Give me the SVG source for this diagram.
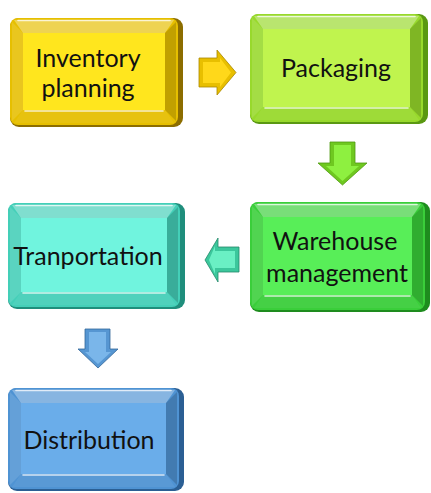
<svg xmlns="http://www.w3.org/2000/svg" width="431" height="493" viewBox="0 0 431 493">
  <defs>
    <style>
      text { font-family: Lato, "Open Sans", "Liberation Sans", sans-serif; font-size: 25px; fill: #111; text-anchor: middle; }
      .bt { fill: #fff; opacity: .32; }
      .bl { fill: #fff; opacity: .12; }
      .br { fill: #000; opacity: .16; }
      .bb { fill: #fff; opacity: .06; }
      .hl { stroke: #fff; stroke-width: 1.6; opacity: .75; fill: none; stroke-linecap: round; }
      .yellow .side { fill: #8c6d00; } .yellow .body { fill: #e6bf00; } .yellow .face { fill: #ffe61e; }
      .lime .side { fill: #5a9812; } .lime .body { fill: #98d92c; } .lime .face { fill: #c0f44e; }
      .green .side { fill: #1e8c1e; } .green .body { fill: #3ace3a; } .green .face { fill: #58ee58; }
      .teal .side { fill: #1f8e7c; } .teal .body { fill: #44cfb8; } .teal .face { fill: #70f4de; }
      .blue .side { fill: #2b5f94; } .blue .body { fill: #4f93d3; } .blue .face { fill: #6aadea; }
      .arrow .out { stroke-width: .8; }
      .a-yellow .out { fill: #e8bf00; stroke: #a98800; } .a-yellow .in { fill: #ffd81a; }
      .a-lime .out { fill: #6fc820; stroke: #4f9a10; } .a-lime .in { fill: #8ef040; }
      .a-teal .out { fill: #3cc79c; stroke: #23896a; } .a-teal .in { fill: #6af0c4; }
      .a-blue .out { fill: #5696d2; stroke: #33679a; } .a-blue .in { fill: #7ab6ea; }
    </style>
  </defs>

  <!-- Inventory planning -->
  <g id="inventory-planning" class="yellow" transform="translate(10,18)">
    <rect class="side" width="173" height="109" rx="9"/>
    <rect class="body" width="168" height="107" rx="8"/>
    <polygon class="bt" points="4,2 164,2 155,15 13,15"/>
    <polygon class="bl" points="2,4 13,15 13,92 2,103"/>
    <polygon class="br" points="166,4 166,103 155,92 155,15"/>
    <polygon class="bb" points="4,105 164,105 155,92 13,92"/>
    <rect class="face" x="13" y="15" width="142" height="77"/>
    <path class="hl" d="M8 2.5 H160"/>
    <path class="hl" d="M15 93 H153"/>
    <text x="78" y="49">Inventory</text>
    <text x="78" y="79">planning</text>
  </g>

  <!-- Packaging -->
  <g id="packaging" class="lime" transform="translate(250,14)">
    <rect class="side" width="178" height="110" rx="9"/>
    <rect class="body" width="173" height="108" rx="8"/>
    <polygon class="bt" points="4,2 169,2 160,15 13,15"/>
    <polygon class="bl" points="2,4 13,15 13,93 2,104"/>
    <polygon class="br" points="171,4 171,104 160,93 160,15"/>
    <polygon class="bb" points="4,106 169,106 160,93 13,93"/>
    <rect class="face" x="13" y="15" width="147" height="78"/>
    <path class="hl" d="M8 2.5 H165"/>
    <path class="hl" d="M15 94 H158"/>
    <text x="86" y="63">Packaging</text>
  </g>

  <!-- Warehouse management -->
  <g id="warehouse-management" class="green" transform="translate(250,202)">
    <rect class="side" width="180" height="110" rx="9"/>
    <rect class="body" width="175" height="108" rx="8"/>
    <polygon class="bt" points="4,2 171,2 162,15 13,15"/>
    <polygon class="bl" points="2,4 13,15 13,93 2,104"/>
    <polygon class="br" points="173,4 173,104 162,93 162,15"/>
    <polygon class="bb" points="4,106 171,106 162,93 13,93"/>
    <rect class="face" x="13" y="15" width="149" height="78"/>
    <path class="hl" d="M8 2.5 H167"/>
    <path class="hl" d="M15 94 H160"/>
    <text x="85" y="48">Warehouse</text>
    <text x="87" y="80">management</text>
  </g>

  <!-- Tranportation -->
  <g id="tranportation" class="teal" transform="translate(8,203)">
    <rect class="side" width="177" height="106" rx="9"/>
    <rect class="body" width="172" height="104" rx="8"/>
    <polygon class="bt" points="4,2 168,2 159,15 13,15"/>
    <polygon class="bl" points="2,4 13,15 13,89 2,100"/>
    <polygon class="br" points="170,4 170,100 159,89 159,15"/>
    <polygon class="bb" points="4,102 168,102 159,89 13,89"/>
    <rect class="face" x="13" y="15" width="146" height="74"/>
    <path class="hl" d="M8 2.5 H164"/>
    <path class="hl" d="M15 90 H157"/>
    <text x="80" y="62">Tranportation</text>
  </g>

  <!-- Distribution -->
  <g id="distribution" class="blue" transform="translate(8,388)">
    <rect class="side" width="176" height="103" rx="9"/>
    <rect class="body" width="171" height="101" rx="8"/>
    <polygon class="bt" points="4,2 167,2 158,15 13,15"/>
    <polygon class="bl" points="2,4 13,15 13,86 2,97"/>
    <polygon class="br" points="169,4 169,97 158,86 158,15"/>
    <polygon class="bb" points="4,99 167,99 158,86 13,86"/>
    <rect class="face" x="13" y="15" width="145" height="71"/>
    <path class="hl" d="M8 2.5 H163"/>
    <path class="hl" d="M15 87 H156"/>
    <text x="81" y="61">Distribution</text>
  </g>

  <!-- Flow arrows between the steps -->
  <g id="connectors">
    <g class="arrow a-yellow">
      <polygon class="out" points="199,58 217,58 217,50 236,72.5 217,95 217,87 199,87"/>
      <polygon class="in" points="203,62 220,62 220,58 231,72.5 220,87 220,83 203,83"/>
    </g>
    <g class="arrow a-lime">
      <polygon class="out" points="330,142 355,142 355,163 367,163 342.5,185 318,163 330,163"/>
      <polygon class="in" points="334,145 351,145 351,166 359,166 342.5,181 326,166 334,166"/>
    </g>
    <g class="arrow a-teal">
      <polygon class="out" points="239,247 218,247 218,238 205,260 218,282 218,272 239,272"/>
      <polygon class="in" points="235,251 215,251 215,246 209,260 215,274 215,268 235,268"/>
    </g>
    <g class="arrow a-blue">
      <polygon class="out" points="85,329 110,329 110,349 118,349 98,368 78,349 85,349"/>
      <polygon class="in" points="89,332 106,332 106,352 111,352 98,364 85,352 89,352"/>
    </g>
  </g>
</svg>
